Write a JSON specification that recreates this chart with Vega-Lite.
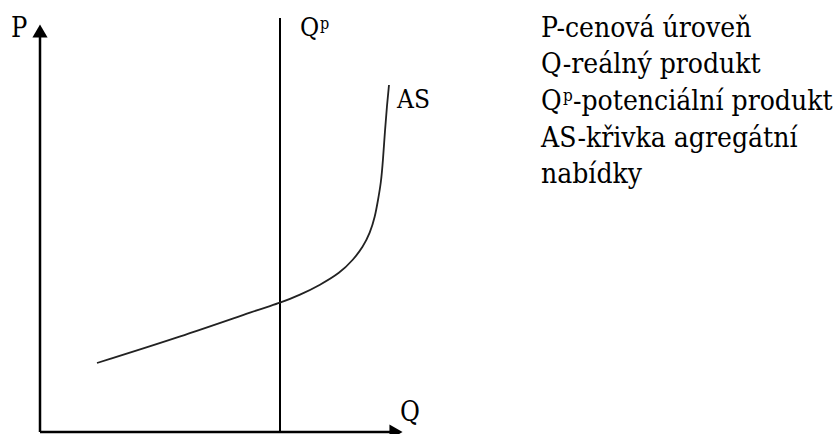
{
  "$schema": "https://vega.github.io/schema/vega-lite/v6.json",
  "width": 840,
  "height": 434,
  "padding": 0,
  "autosize": "none",
  "background": "white",
  "config": {"view": {"stroke": null}},
  "datasets": {
    "lines": [
      {"x": 0, "y": 0, "x2": 0, "y2": 396, "w": 2.5},
      {"x": 0, "y": 0, "x2": 352, "y2": 0, "w": 2.5},
      {"x": 240, "y": 0, "x2": 240, "y2": 414, "w": 2}
    ],
    "arrows": [
      {"x": 0, "y": 401, "shape": "triangle-up"},
      {"x": 356, "y": 0, "shape": "triangle-right"}
    ],
    "as": [
      {"q": 57, "p": 69},
      {"q": 140, "p": 95},
      {"q": 220, "p": 123},
      {"q": 240, "p": 129},
      {"q": 260, "p": 137},
      {"q": 280, "p": 147},
      {"q": 300, "p": 159},
      {"q": 313, "p": 172},
      {"q": 323, "p": 185},
      {"q": 330, "p": 199},
      {"q": 335, "p": 215},
      {"q": 338, "p": 232},
      {"q": 341, "p": 249},
      {"q": 343, "p": 272},
      {"q": 345, "p": 302},
      {"q": 347, "p": 327},
      {"q": 349, "p": 347}
    ],
    "labels": [
      {"t": "P", "x": -29, "y": 395, "s": 27},
      {"t": "Q", "x": 260, "y": 396, "s": 26},
      {"t": "p", "x": 280, "y": 403, "s": 16},
      {"t": "AS", "x": 357, "y": 324, "s": 26},
      {"t": "Q", "x": 360, "y": 11, "s": 27},
      {"t": "P-cenová úroveň", "x": 501, "y": 395, "s": 28},
      {"t": "Q-reálný produkt", "x": 501, "y": 359, "s": 28},
      {"t": "Q", "x": 501, "y": 322, "s": 28},
      {"t": "p", "x": 523, "y": 331, "s": 17},
      {"t": "-potenciální produkt", "x": 533, "y": 322, "s": 28},
      {"t": "AS-křivka agregátní", "x": 501, "y": 285, "s": 28},
      {"t": "nabídky", "x": 501, "y": 249, "s": 28}
    ]
  },
  "layer": [
    {
      "data": {"name": "lines"},
      "mark": {"type": "rule", "color": "black"},
      "encoding": {
        "x": {"field": "x", "type": "quantitative", "scale": {"domain": [-40, 800], "nice": false, "zero": false}, "axis": null},
        "y": {"field": "y", "type": "quantitative", "scale": {"domain": [-2, 432], "nice": false, "zero": false}, "axis": null},
        "x2": {"field": "x2"},
        "y2": {"field": "y2"},
        "strokeWidth": {"field": "w", "type": "quantitative", "scale": null, "legend": null}
      }
    },
    {
      "data": {"name": "arrows"},
      "mark": {"type": "point", "filled": true, "color": "black", "opacity": 1, "size": 230},
      "encoding": {
        "x": {"field": "x", "type": "quantitative", "scale": {"domain": [-40, 800], "nice": false, "zero": false}, "axis": null},
        "y": {"field": "y", "type": "quantitative", "scale": {"domain": [-2, 432], "nice": false, "zero": false}, "axis": null},
        "shape": {"field": "shape", "type": "nominal", "scale": null, "legend": null}
      }
    },
    {
      "data": {"name": "as"},
      "mark": {"type": "line", "color": "#222", "strokeWidth": 1.8, "interpolate": "basis"},
      "encoding": {
        "x": {"field": "q", "type": "quantitative", "scale": {"domain": [-40, 800], "nice": false, "zero": false}, "axis": null},
        "y": {"field": "p", "type": "quantitative", "scale": {"domain": [-2, 432], "nice": false, "zero": false}, "axis": null}
      }
    },
    {
      "data": {"name": "labels"},
      "mark": {"type": "text", "align": "left", "baseline": "alphabetic", "font": "DejaVu Serif Condensed, DejaVu Serif", "color": "black"},
      "encoding": {
        "x": {"field": "x", "type": "quantitative", "scale": {"domain": [-40, 800], "nice": false, "zero": false}, "axis": null},
        "y": {"field": "y", "type": "quantitative", "scale": {"domain": [-2, 432], "nice": false, "zero": false}, "axis": null},
        "text": {"field": "t", "type": "nominal"},
        "size": {"field": "s", "type": "quantitative", "scale": null, "legend": null}
      }
    }
  ]
}
